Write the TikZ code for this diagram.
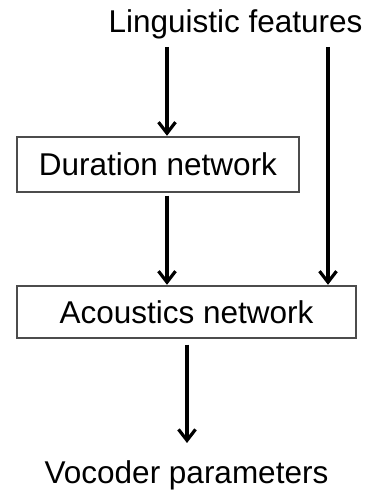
\documentclass[tikz,border=0pt]{standalone}
\usepackage{fontspec}
\setmainfont{Liberation Sans}
\usetikzlibrary{arrows.meta}
\begin{document}
\begin{tikzpicture}[x=1bp,y=-1bp,
  label/.style={font=\fontsize{31.5bp}{36bp}\selectfont, inner sep=0pt},
  netbox/.style={draw=black!70, line width=1.4bp, inner sep=0pt,
    font=\fontsize{31.5bp}{36bp}\selectfont},
  flow/.style={line width=3.2bp, -{Straight Barb[length=11bp,width=17bp,line width=3.2bp]}}]
  \useasboundingbox (0,0) rectangle (373,492);
  % inputs and outputs
  \node[label, anchor=base] (ling) at (235.5,33) {Linguistic features};
  \node[label, anchor=base] (voc) at (186.5,483) {Vocoder parameters};
  % the two networks
  \node[netbox, minimum width=282bp, minimum height=55bp] (dur) at (158,164.5) {Duration network};
  \node[netbox, minimum width=339bp, minimum height=52bp] (ac) at (186.5,312) {Acoustics network};
  % tap points for the connectors
  \coordinate (s1) at (167,47);
  \coordinate (s2) at (328,47);
  \coordinate (s3) at (187,344);
  \draw[flow, shorten >=0.5bp] (s1) -- (s1 |- dur.north);
  \draw[flow, shorten >=0.5bp, shorten <=3bp] (dur.south -| s1) -- (s1 |- ac.north);
  \draw[flow, shorten >=0.5bp] (s2) -- (s2 |- ac.north);
  \draw[flow, shorten >=17bp, shorten <=6bp] (ac.south -| s3) -- (s3 |- voc.north);
\end{tikzpicture}
\end{document}
